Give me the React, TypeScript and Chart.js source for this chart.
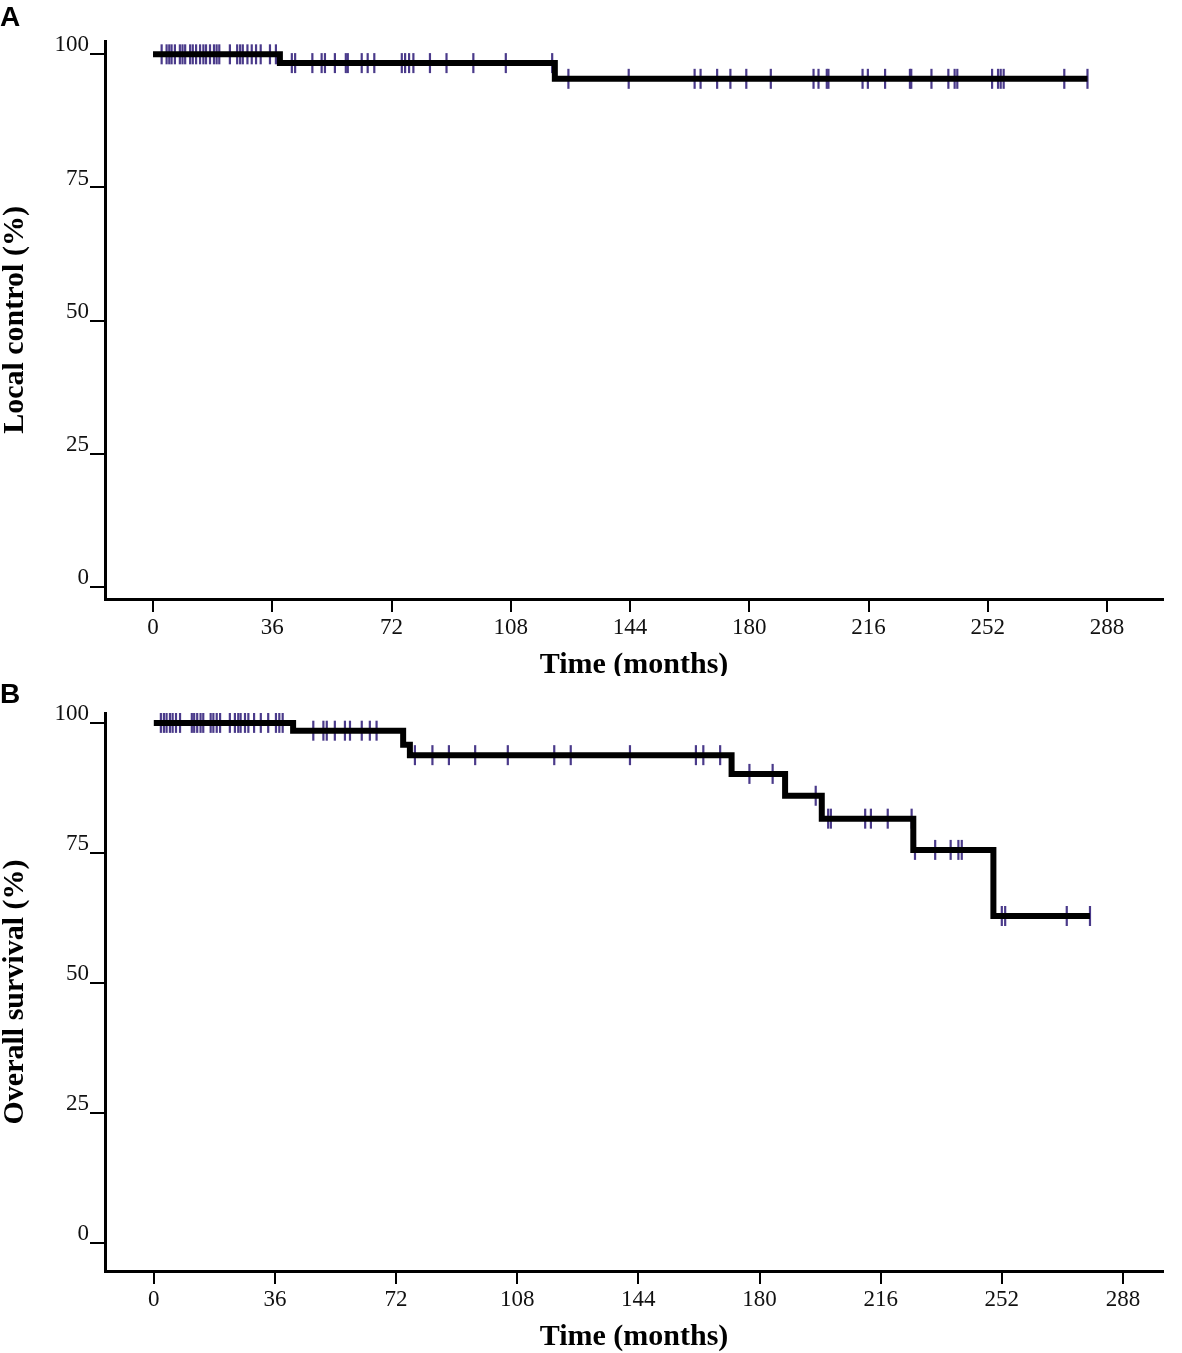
import React, { useEffect, useRef } from "react";
import { Chart, registerables } from "chart.js";

Chart.register(...registerables);

const xTicks = [0, 36, 72, 108, 144, 180, 216, 252, 288];
const yTicks = [0, 25, 50, 75, 100];

// A: local control, step times (months) and levels (%)
const lcStepTimes = [0, 38.3, 121.3, 282.1];
const lcStepLevels = [100, 98.35, 95.4, 95.4];
const lcCensored = [
  2.6, 4.1, 4.9, 5.6, 6.6, 8.1, 8.9, 9.7, 11.2, 12.0, 13.0, 14.2, 15.2, 16.0,
  17.2, 18.4, 19.2, 20.0, 23.2, 25.4, 26.3, 27.1, 28.5, 29.8, 31.1, 32.5, 35.3,
  37.1, 41.9, 42.9, 48.1, 50.9, 51.9, 54.9, 58.2, 58.8, 63.0, 64.8, 66.8, 75.1,
  76.1, 77.3, 78.6, 83.6, 88.6, 96.7, 106.5, 120.5, 125.4, 143.6, 163.5, 165.3,
  170.3, 174.3, 179.1, 186.5, 199.4, 200.9, 203.4, 203.9, 214.2, 215.8, 221.0,
  228.5, 228.9, 235.0, 240.1, 242.0, 242.8, 253.3, 255.1, 255.9, 256.8, 275.1,
  282.1,
];

// B: overall survival
const osStepTimes = [0, 41.4, 74.1, 76.1, 171.7, 187.6, 198.5, 225.7, 249.5, 278.2];
const osStepLevels = [100, 98.5, 95.8, 93.8, 90.2, 86.0, 81.6, 75.6, 62.9, 62.9];
const osCensored = [
  2.1, 3.0, 3.8, 4.8, 5.6, 6.6, 7.8, 11.3, 12.0, 12.9, 13.9, 14.7, 16.9, 17.7,
  18.7, 19.7, 22.6, 24.1, 25.1, 25.8, 27.1, 28.1, 29.8, 31.8, 34.0, 36.3, 37.3,
  38.3, 47.4, 50.4, 51.4, 53.8, 56.8, 58.3, 61.8, 64.2, 66.2, 77.6, 82.8, 87.7,
  95.5, 105.2, 119.0, 123.9, 141.5, 161.1, 163.3, 168.3, 177.0, 183.9, 196.7,
  200.4, 201.2, 211.4, 213.1, 218.1, 225.2, 226.2, 232.2, 236.8, 239.1, 240.1,
  252.0, 253.0, 271.3, 278.2,
];

const levelAt = (times: number[], levels: number[], t: number) => {
  let v = levels[0];
  for (let i = 0; i < times.length; i++) {
    if (times[i] <= t) v = levels[i];
  }
  return v;
};

const serif = "'Liberation Serif', 'Times New Roman', serif";

type Props = {
  stepTimes: number[];
  stepLevels: number[];
  censored: number[];
  yTitle: string;
  height: number;
  padTop: number;
  xScaleHeight: number;
  xMin: number;
  xMax: number;
  yMin: number;
  yMax: number;
  titlePadBottom: number;
};

const KMChart = (p: Props) => {
  const chartRef: any = useRef(null);
  const chartInstance: any = useRef(null);

  useEffect(() => {
    const ctx = chartRef.current.getContext("2d");
    chartInstance.current = new Chart(ctx, {
      type: "line",
      data: {
        datasets: [
          {
            data: p.stepTimes.map((t, i) => ({ x: t, y: p.stepLevels[i] })),
            borderColor: "#000",
            borderWidth: 6,
            stepped: true,
            pointRadius: 0,
            fill: false,
          },
          {
            data: p.censored.map((t) => ({
              x: t,
              y: levelAt(p.stepTimes, p.stepLevels, t),
            })),
            showLine: false,
            pointStyle: "line",
            rotation: 90,
            pointRadius: 10,
            borderWidth: 2.2,
            borderColor: "#4a3a8a",
            backgroundColor: "#4a3a8a",
          },
        ],
      },
      options: {
        animation: false,
        responsive: false,
        layout: { padding: { top: p.padTop, right: 19, left: 0, bottom: 0 } },
        plugins: { legend: { display: false }, tooltip: { enabled: false } },
        scales: {
          x: {
            type: "linear",
            min: p.xMin,
            max: p.xMax,
            afterBuildTicks: (s: any) => {
              s.ticks = xTicks.map((v) => ({ value: v }));
            },
            afterFit: (s: any) => {
              s.height = p.xScaleHeight;
            },
            grid: { drawOnChartArea: false, color: "#000", lineWidth: 2, tickLength: 13 },
            border: { display: true, color: "#000", width: 3 },
            ticks: {
              color: "#111",
              padding: 2,
              maxRotation: 0,
              autoSkip: false,
              font: { family: serif, size: 23 },
            },
            title: {
              display: true,
              text: "Time (months)",
              color: "#000",
              padding: { top: 0, bottom: p.titlePadBottom },
              font: { family: serif, size: 30, weight: "bold" },
            },
          },
          y: {
            type: "linear",
            min: p.yMin,
            max: p.yMax,
            afterBuildTicks: (s: any) => {
              s.ticks = yTicks.map((v) => ({ value: v }));
            },
            afterFit: (s: any) => {
              s.width = 105;
            },
            grid: { drawOnChartArea: false, color: "#000", lineWidth: 2, tickLength: 15 },
            border: { display: true, color: "#000", width: 3 },
            ticks: {
              color: "#111",
              padding: 1,
              labelOffset: -9,
              autoSkip: false,
              font: { family: serif, size: 23 },
            },
            title: {
              display: true,
              text: p.yTitle,
              color: "#000",
              padding: 0,
              font: { family: serif, size: 30, weight: "bold", lineHeight: 1 },
            },
          },
        },
      },
    } as any);

    return () => {
      if (chartInstance.current) {
        chartInstance.current.destroy();
      }
    };
  }, []);

  return <canvas ref={chartRef} width={1182} height={p.height} style={{ display: "block" }}></canvas>;
};

const panelLabel: React.CSSProperties = {
  position: "absolute",
  left: 0,
  fontFamily: "'Liberation Sans', Arial, sans-serif",
  fontWeight: "bold",
  fontSize: 28,
  lineHeight: 1,
};

export default function App() {
  useEffect(() => {
    document.body.style.margin = "0";
  }, []);

  return (
    <div style={{ position: "relative", width: 1182, height: 1353, background: "#fff" }}>
      <KMChart
        stepTimes={lcStepTimes}
        stepLevels={lcStepLevels}
        censored={lcCensored}
        yTitle="Local control (%)"
        height={676}
        padTop={41}
        xScaleHeight={77}
        xMin={-14.5}
        xMax={304.9}
        yMin={-2.25}
        yMax={102.5}
        titlePadBottom={-7}
      />
      <KMChart
        stepTimes={osStepTimes}
        stepLevels={osStepLevels}
        censored={osCensored}
        yTitle="Overall survival (%)"
        height={677}
        padTop={37}
        xScaleHeight={82}
        xMin={-14.5}
        xMax={299.9}
        yMin={-5.3}
        yMax={101.9}
        titlePadBottom={-2}
      />
      <div style={{ ...panelLabel, top: 3 }}>A</div>
      <div style={{ ...panelLabel, top: 680 }}>B</div>
    </div>
  );
}
